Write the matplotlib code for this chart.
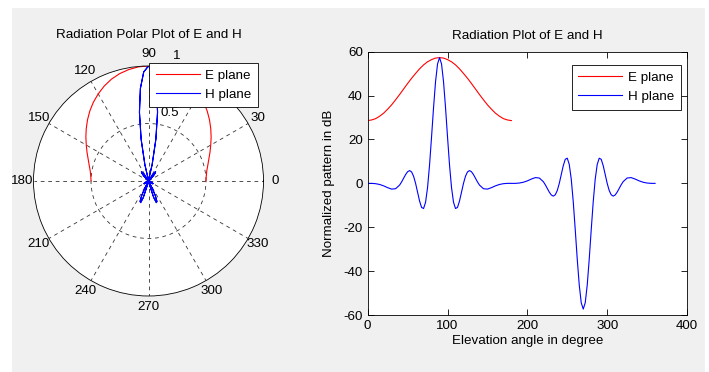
import numpy as np
import matplotlib
matplotlib.use('Agg')
import matplotlib.pyplot as plt
from matplotlib.patches import Rectangle

plt.rcParams['font.family'] = ['Liberation Sans', 'DejaVu Sans']
plt.rcParams['font.size'] = 9.6
plt.rcParams['axes.unicode_minus'] = False

# E plane pattern (dB), 0..180 deg
e_deg = [0, 5, 10, 15, 20, 25, 30, 35, 40, 45, 50, 55, 60, 65, 70, 75, 80, 85, 90,
         95, 100, 105, 110, 115, 120, 125, 130, 135, 140, 145, 150, 155, 160, 165, 170, 175, 180]
e_db = [28.6, 28.9, 29.5, 30.6, 32.0, 33.8, 35.8, 38.1, 40.5, 43.0, 45.5, 47.9, 50.1, 52.2, 54.0, 55.4, 56.4, 57.1, 57.3,
        57.1, 56.4, 55.4, 54.0, 52.2, 50.1, 47.9, 45.5, 43.0, 40.5, 38.1, 35.8, 33.8, 32.0, 30.6, 29.5, 28.9, 28.6]

# H plane pattern (dB), 0..360 deg
h_deg = [0, 5, 10, 15, 20, 25, 30, 35, 40, 42.5, 45, 47.5, 50, 52.5, 55, 57.5, 60, 62.5, 65, 67.5,
         70, 72.5, 75, 77.5, 80, 82.5, 85, 87.5, 90, 92.5, 95, 97.5, 100, 102.5, 105, 107.5, 110, 112.5,
         115, 117.5, 120, 122.5, 125, 127.5, 130, 132.5, 135, 137.5, 140, 145, 150, 155, 160, 165, 170, 175, 180,
         185, 190, 195, 200, 205, 210, 215, 220, 222.5, 225, 227.5, 230, 232.5, 235, 237.5, 240, 242.5, 245,
         247.5, 250, 252.5, 255, 257.5, 260, 262.5, 265, 267.5, 270, 272.5, 275, 277.5, 280, 282.5, 285,
         287.5, 290, 292.5, 295, 297.5, 300, 302.5, 305, 307.5, 310, 312.5, 315, 317.5, 320, 325, 330, 335,
         340, 345, 350, 355, 360]
h_db = [0.0, 0.0, -0.15, -0.51, -1.14, -1.96, -2.62, -2.44, -0.77, 0.66, 2.34, 4.00, 5.30, 5.82, 5.20, 3.24, 0.0, -4.05, -8.08, -10.96,
        -11.47, -8.60, -1.88, 8.42, 21.18, 34.56, 46.33, 54.42, 57.3, 54.42, 46.33, 34.56, 21.18, 8.42, -1.88, -8.60, -11.47, -10.96,
        -8.08, -4.05, 0.0, 3.24, 5.20, 5.82, 5.30, 4.00, 2.34, 0.66, -0.77, -2.44, -2.62, -1.96, -1.14, -0.51, -0.15, 0.0, 0.0,
        0.0, 0.15, 0.51, 1.14, 1.96, 2.62, 2.44, 0.77, -0.66, -2.34, -4.00, -5.30, -5.82, -5.20, -3.24, 0.0, 4.05, 8.08,
        10.96, 11.47, 8.60, 1.88, -8.42, -21.18, -34.56, -46.33, -54.42, -57.3, -54.42, -46.33, -34.56, -21.18, -8.42, 1.88,
        8.60, 11.47, 10.96, 8.08, 4.05, 0.0, -3.24, -5.20, -5.82, -5.30, -4.00, -2.34, -0.66, 0.77, 2.44, 2.62, 1.96,
        1.14, 0.51, 0.15, 0.0, 0.0]

theta_ticks = [0, 30, 60, 90, 120, 150, 180, 210, 240, 270, 300, 330]
x_ticks = [0, 100, 200, 300, 400]
y_ticks = [-60, -40, -20, 0, 20, 40, 60]

fig = plt.figure(figsize=(7.09, 3.72), dpi=100)
fig.patch.set_facecolor('white')
fig.add_artist(Rectangle((12 / 709, 0), 693 / 709, 364 / 372, transform=fig.transFigure,
                         facecolor='#f0f0f0', edgecolor='none', zorder=-10))

# ---- polar plot ----
ax1 = fig.add_axes([0.04725, 0.2043, 0.3244, 0.6183], projection='polar')
ax1.set_facecolor('white')
e_r = np.array(e_db) / max(e_db)
h_r = np.array(h_db) / max(h_db)
# negative radius -> reflected through the origin (like MATLAB polar)
h_th = np.radians(h_deg) + np.where(h_r < 0, np.pi, 0)
ax1.plot(np.radians(e_deg), e_r, color='#ff0000', lw=0.8, label='E plane')
ax1.plot(h_th, np.abs(h_r), color='#0000ff', lw=0.8, label='H plane')
ax1.set_ylim(0, 1)
ax1.set_xticks(np.radians(theta_ticks))
ax1.set_xticklabels([])
ax1.set_yticks([0.5])
ax1.set_yticklabels([])
ax1.grid(True, color='#333333', linestyle=(0, (4.5, 4.5)), lw=0.6)
ax1.spines['polar'].set_linewidth(0.6)
ax1.spines['polar'].set_color('black')
for t in theta_ticks:
    ax1.text(np.radians(t), 1.1, str(t), ha='center', va='center', clip_on=False)
ax1.text(np.radians(72.5), 0.62, '0.5', ha='center', va='center')
ax1.text(np.radians(77.3), 1.11, '1', ha='center', va='center', clip_on=False)
ax1.set_title('Radiation Polar Plot of E and H', fontsize=9.6, y=1.0, pad=20)
leg1 = ax1.legend(loc='upper right', bbox_to_anchor=(258 / 709, 1 - 62.7 / 372),
                  bbox_transform=fig.transFigure, borderaxespad=0, fancybox=False,
                  edgecolor='black', framealpha=1, handlelength=3.3, handletextpad=0.4,
                  borderpad=0.5)
leg1.get_frame().set_linewidth(0.6)

# ---- rectangular plot ----
ax2 = fig.add_axes([0.5186, 0.1532, 0.4504, 0.7078])
ax2.plot(e_deg, e_db, color='#ff0000', lw=0.8, label='E plane')
ax2.plot(h_deg, h_db, color='#0000ff', lw=0.8, label='H plane')
ax2.set_xlim(0, 400)
ax2.set_ylim(-60, 60)
ax2.set_xticks(x_ticks)
ax2.set_yticks(y_ticks)
ax2.tick_params(direction='in', top=True, right=True, length=4, width=0.6)
for s in ax2.spines.values():
    s.set_linewidth(0.6)
ax2.set_xlabel('Elevation angle in degree', labelpad=2)
ax2.set_ylabel('Normalized pattern in dB', labelpad=6)
ax2.set_title('Radiation Plot of E and H', fontsize=9.6, y=1.0, pad=9)
leg2 = ax2.legend(loc='upper right', bbox_to_anchor=(680.7 / 709, 1 - 65 / 372),
                  bbox_transform=fig.transFigure, borderaxespad=0, fancybox=False,
                  edgecolor='black', framealpha=1, handlelength=3.3, handletextpad=0.4,
                  borderpad=0.5)
leg2.get_frame().set_linewidth(0.6)

fig.savefig('out.png', dpi=100, facecolor=fig.get_facecolor())
